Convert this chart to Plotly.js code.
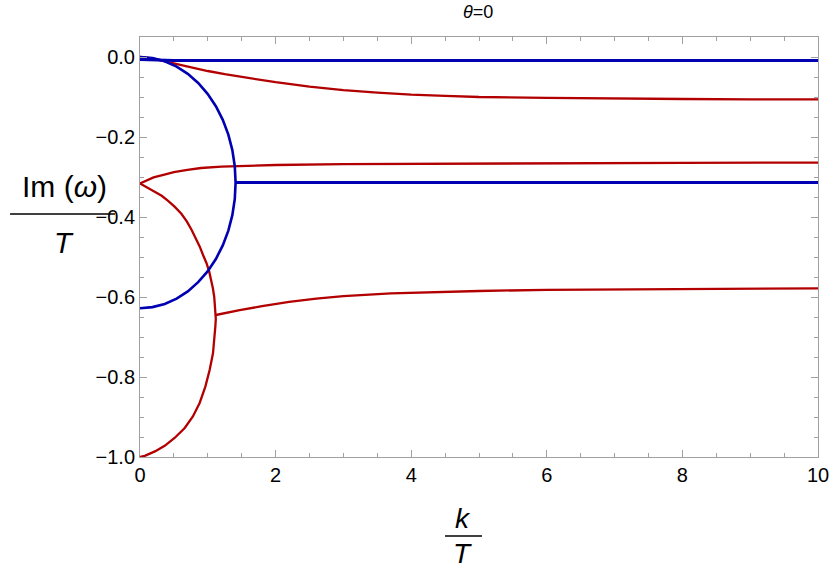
<!DOCTYPE html>
<html>
<head>
<meta charset="utf-8">
<script src="https://cdn.plot.ly/plotly-3.0.1.min.js"></script>
<style>html,body{margin:0;padding:0;background:#fff;}#chart{width:830px;height:568px;}</style>
</head>
<body>
<div id="chart"></div>
<script>
// Blue branch: mode near 0
const blueTopK = [0, 0.5, 1, 2, 3, 4, 5, 6, 7, 8, 9, 10];
const blueTopY = [-0.006, -0.0085, -0.0085, -0.0085, -0.0085, -0.0085, -0.0085, -0.0085, -0.0085, -0.0085, -0.0085, -0.0085];

// Blue arc (from 0 to -0.628, turning at k≈1.41)
const blueArcK = [0, 0.184, 0.365, 0.540, 0.705, 0.858, 0.997, 1.119, 1.221, 1.303, 1.362, 1.398, 1.41,
                  1.398, 1.362, 1.303, 1.221, 1.119, 0.997, 0.858, 0.705, 0.540, 0.365, 0.184, 0];
const blueArcY = [0, -0.0027, -0.0107, -0.024, -0.042, -0.065, -0.092, -0.123, -0.157, -0.194, -0.2327, -0.273, -0.314,
                  -0.355, -0.3953, -0.434, -0.471, -0.505, -0.536, -0.563, -0.586, -0.604, -0.6173, -0.6253, -0.628];

// Blue flat branch after merging
const blueMidK = [1.41, 2, 4, 6, 8, 10];
const blueMidY = [-0.314, -0.314, -0.314, -0.314, -0.314, -0.314];

// Red branch 1: from 0 down to about -0.106
const red1K = [0, 0.2, 0.4, 0.6, 0.8, 1.0, 1.25, 1.5, 1.75, 2.0, 2.5, 3, 3.5, 4, 4.5, 5, 6, 7, 8, 9, 10];
const red1Y = [0, -0.004, -0.012, -0.020, -0.028, -0.035, -0.043, -0.050, -0.057, -0.063, -0.074, -0.083, -0.089, -0.094, -0.097, -0.100, -0.102, -0.104, -0.105, -0.106, -0.106];

// Red branch 2: from -0.316 up to about -0.264
const red2K = [0, 0.1, 0.2, 0.36, 0.5, 0.7, 0.9, 1.2, 1.5, 2, 3, 4, 5, 6, 8, 10];
const red2Y = [-0.316, -0.308, -0.301, -0.294, -0.288, -0.282, -0.2775, -0.274, -0.272, -0.270, -0.268, -0.267, -0.266, -0.265, -0.2645, -0.264];

// Red arc: from -0.316 to -1.0, turning at k≈1.118
const redArcK = [0, 0.11, 0.22, 0.32, 0.41, 0.51, 0.61, 0.69, 0.76, 0.82, 0.88, 0.93, 0.98, 1.02, 1.05, 1.075, 1.095, 1.107, 1.115, 1.118,
                 1.112, 1.10, 1.077, 1.028, 0.965, 0.88, 0.78, 0.66, 0.51, 0.364, 0.22, 0.07, 0];
const redArcY = [-0.316, -0.326, -0.336, -0.347, -0.359, -0.374, -0.392, -0.411, -0.432, -0.452, -0.4735, -0.495, -0.515, -0.536, -0.557, -0.578, -0.60, -0.62, -0.64, -0.655,
                 -0.672, -0.6985, -0.74, -0.782, -0.8235, -0.865, -0.8985, -0.9275, -0.9525, -0.972, -0.986, -0.997, -1.0];

// Red branch 5: from junction at k≈1.12 up to about -0.578
const red5K = [1.118, 1.3, 1.47, 1.8, 2.2, 2.6, 3, 3.7, 4.4, 5, 6, 7, 8, 9, 10];
const red5Y = [-0.645, -0.638, -0.633, -0.623, -0.612, -0.604, -0.598, -0.591, -0.587, -0.585, -0.582, -0.581, -0.580, -0.579, -0.5785];

const BLUE = 'rgb(0,0,178)';
const RED = 'rgb(178,0,0)';

function tr(x, y, color, w) {
  return {x: x, y: y, type: 'scatter', mode: 'lines', showlegend: false,
          line: {color: color, width: w, shape: 'linear'}, hoverinfo: 'skip'};
}

const data = [
  tr(red1K, red1Y, RED, 2.3),
  tr(red2K, red2Y, RED, 2.3),
  tr(redArcK, redArcY, RED, 2.3),
  tr(red5K, red5Y, RED, 2.3),
  tr(blueArcK, blueArcY, BLUE, 2.6),
  tr(blueTopK, blueTopY, BLUE, 3),
  tr(blueMidK, blueMidY, BLUE, 3)
];

const FONT = '"Liberation Sans", Arial, sans-serif';
const axisCommon = {
  showgrid: false, zeroline: false, showline: true, linecolor: '#a0a0a0', linewidth: 1,
  mirror: 'ticks', ticks: 'inside', ticklen: 7, tickcolor: '#a0a0a0', tickwidth: 1
};

const layout = {
  width: 830, height: 568,
  margin: {l: 140, r: 12, t: 37, b: 111},
  paper_bgcolor: '#fff', plot_bgcolor: '#fff',
  xaxis: Object.assign({}, axisCommon, {
    range: [0, 10], tickvals: [0, 2, 4, 6, 8, 10], ticktext: ['0', '2', '4', '6', '8', '10'],
    tickfont: {family: FONT, size: 20, color: '#000'},
    minor: {dtick: 0.5, ticks: 'inside', ticklen: 4, tickcolor: '#a0a0a0', showgrid: false}
  }),
  yaxis: Object.assign({}, axisCommon, {
    range: [-1.0, 0.05], tickvals: [0, -0.2, -0.4, -0.6, -0.8, -1.0],
    ticktext: ['0.0', '\u22120.2', '\u22120.4', '\u22120.6', '\u22120.8', '\u22121.0'],
    tickfont: {family: FONT, size: 20, color: '#000'},
    minor: {dtick: 0.05, ticks: 'inside', ticklen: 4, tickcolor: '#a0a0a0', showgrid: false}
  }),
  annotations: [
    {text: '<i>θ</i>=0', xref: 'paper', yref: 'paper', x: 0.4985, y: 1.0595, showarrow: false,
     xanchor: 'center', yanchor: 'middle', font: {family: FONT, size: 18, color: '#000'}},
    {text: 'Im (<i>ω</i>)', xref: 'paper', yref: 'paper', x: -0.112, y: 0.645, showarrow: false,
     xanchor: 'center', yanchor: 'middle', font: {family: FONT, size: 30, color: '#000'}},
    {text: '<i>T</i>', xref: 'paper', yref: 'paper', x: -0.112, y: 0.5095, showarrow: false,
     xanchor: 'center', yanchor: 'middle', font: {family: FONT, size: 29, color: '#000'}},
    {text: '<i>k</i>', xref: 'paper', yref: 'paper', x: 0.4764, y: -0.1476, showarrow: false,
     xanchor: 'center', yanchor: 'middle', font: {family: FONT, size: 28, color: '#000'}},
    {text: '<i>T</i>', xref: 'paper', yref: 'paper', x: 0.4764, y: -0.2286, showarrow: false,
     xanchor: 'center', yanchor: 'middle', font: {family: FONT, size: 28, color: '#000'}}
  ],
  shapes: [
    {type: 'line', xref: 'paper', yref: 'paper', x0: -0.1917, x1: -0.0369, y0: 0.5786, y1: 0.5786,
     line: {color: '#000', width: 1.5}},
    {type: 'line', xref: 'paper', yref: 'paper', x0: 0.4499, x1: 0.5044, y0: -0.188, y1: -0.188,
     line: {color: '#000', width: 1.5}}
  ]
};

Plotly.newPlot('chart', data, layout, {displayModeBar: false, staticPlot: true});
</script>
</body>
</html>
